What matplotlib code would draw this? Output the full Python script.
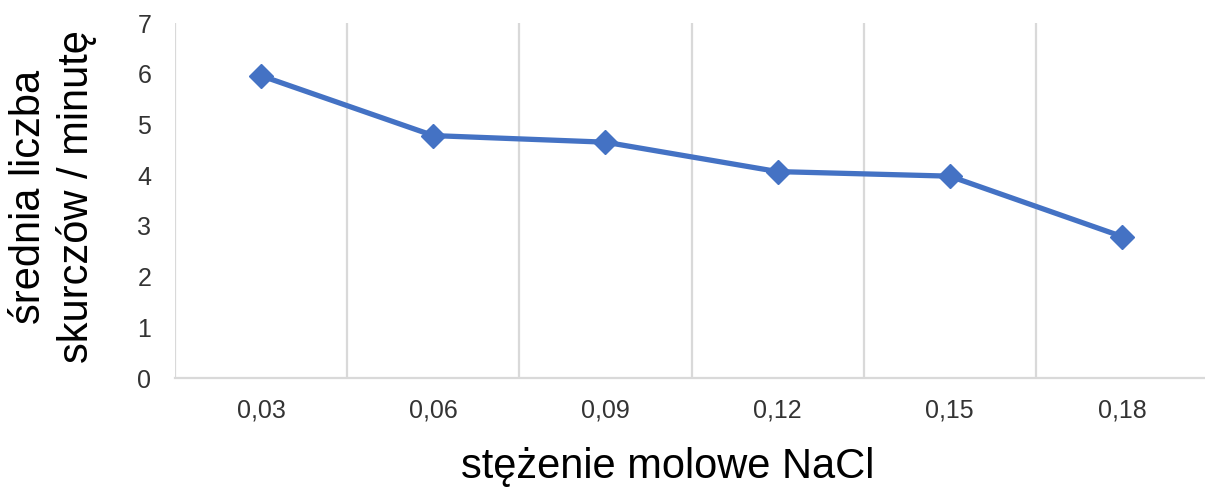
import matplotlib.pyplot as plt

plt.rcParams['font.family'] = ['Liberation Sans', 'DejaVu Sans']

# stężenie molowe NaCl i średnia liczba skurczów
kategorie = ['0,03', '0,06', '0,09', '0,12', '0,15', '0,18']
skurcze = [5.96, 4.78, 4.65, 4.07, 3.98, 2.79]

fig = plt.figure(figsize=(12.05, 4.88), dpi=100)
ax = fig.add_axes([175 / 1205, 1 - 378 / 488, 1033 / 1205, (378 - 23) / 488])

x = list(range(len(kategorie)))
ax.plot(x, skurcze, color='#4472C4', linewidth=3.8, marker='D', markersize=12,
        solid_joinstyle='round', zorder=3)

ax.set_xlim(-0.5, len(kategorie) - 0.5)
ax.set_ylim(0, 7)
ax.set_yticks(range(8))
ax.set_xticks(x)
ax.set_xticklabels(kategorie)

# pionowe linie siatki na granicach kategorii
for b in range(len(kategorie) + 1):
    ax.axvline(b - 0.5, color='#d9d9d9', linewidth=1.6, zorder=1)

for s in ['top', 'right', 'left']:
    ax.spines[s].set_visible(False)
ax.spines['bottom'].set_color('#d9d9d9')
ax.spines['bottom'].set_linewidth(1.6)

ax.tick_params(axis='y', length=0, pad=17, labelsize=18, labelcolor='#333333')
ax.tick_params(axis='x', length=0, pad=15, labelsize=18, labelcolor='#333333')

fig.text(668 / 1205, 1 - 467 / 488, 'stężenie molowe NaCl', fontsize=30,
         ha='center', va='center', color='black')
fig.text(53 / 1205, 1 - 197 / 488, 'średnia liczba\nskurczów / minutę', fontsize=30,
         rotation=90, ha='center', va='center', color='black', linespacing=1.2)

fig.savefig('out.png', dpi=100)
